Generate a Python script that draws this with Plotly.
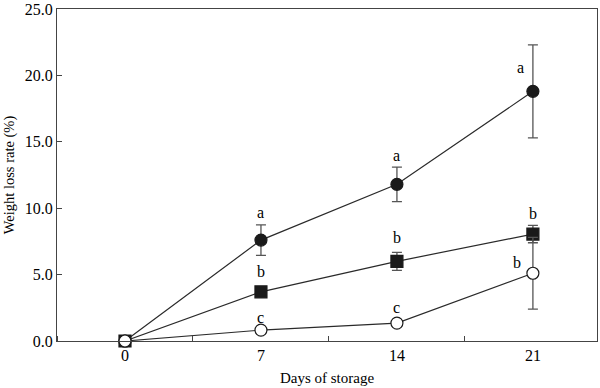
import plotly.graph_objects as go

days = [0, 7, 14, 21]

# Series A (filled circles)
a_vals = [0.0, 7.6, 11.8, 18.8]
a_err = [0.0, 1.15, 1.3, 3.5]
a_letters = ["", "a", "a", "a"]

# Series B (filled squares)
b_vals = [0.0, 3.7, 6.0, 8.05]
b_err = [0.0, 0.25, 0.68, 0.65]
b_letters = ["", "b", "b", "b"]

# Series C (open circles)
c_vals = [0.0, 0.82, 1.35, 5.1]
c_err = [0.0, 0.1, 0.15, 2.7]
c_letters = ["", "c", "c", "b"]

# letter positions (value units)
a_letter_y = [None, 9.7, 14.0, 20.6]
b_letter_y = [None, 5.2, 7.8, 9.6]
c_letter_y = [None, 1.75, 2.55, 5.9]
a_letter_dx = [0, 0, 0, -0.65]
b_letter_dx = [0, 0, 0, 0]
c_letter_dx = [0, 0, 0, -0.8]

ink = "#000000"
bar_col = "#555555"
font_family = "Liberation Serif, Times New Roman, serif"

fig = go.Figure()

def add_series(vals, err, symbol, fill):
    fig.add_trace(go.Scatter(
        x=days, y=vals, mode="lines+markers",
        line=dict(color="#2a2a2a", width=1.2),
        marker=dict(symbol=symbol, size=12, color=fill,
                    line=dict(color="#1a1a1a", width=1.2)),
        error_y=dict(type="data", array=err, visible=True,
                     color=bar_col, thickness=1.3, width=5),
        showlegend=False, cliponaxis=False, hoverinfo="skip",
    ))

add_series(a_vals, a_err, "circle", "#1a1a1a")
add_series(b_vals, b_err, "square", "#1a1a1a")
add_series(c_vals, c_err, "circle", "white")

for letters, ys, dxs in [(a_letters, a_letter_y, a_letter_dx),
                         (b_letters, b_letter_y, b_letter_dx),
                         (c_letters, c_letter_y, c_letter_dx)]:
    for d, lt, yy, dx in zip(days, letters, ys, dxs):
        if not lt:
            continue
        fig.add_annotation(
            x=d + dx, y=yy, text=lt, showarrow=False,
            xanchor="center", yanchor="middle",
            font=dict(family=font_family, size=16, color=ink),
        )

fig.update_layout(
    width=600, height=388,
    margin=dict(l=57, r=3, t=9, b=47),
    paper_bgcolor="white", plot_bgcolor="white",
    font=dict(family=font_family, size=15, color=ink),
)

fig.update_xaxes(
    range=[-3.5, 24.3], tickvals=days, ticktext=[str(d) for d in days],
    ticks="", showgrid=False, zeroline=False, automargin=False,
    showline=True, linecolor="#444444", linewidth=1.2, mirror=True,
    minor=dict(tick0=3.5, dtick=7, ticks="inside", ticklen=5,
               tickcolor="#444444", showgrid=False),
    title=dict(text="Days of storage", font=dict(size=15), standoff=9),
    tickfont=dict(size=16),
)

fig.update_yaxes(
    range=[0, 25], tickvals=[0, 5, 10, 15, 20, 25], tickformat=".1f",
    ticks="inside", ticklen=5, tickcolor="#444444",
    showgrid=False, zeroline=False, automargin=False,
    showline=True, linecolor="#444444", linewidth=1.2, mirror=True,
    title=dict(text="Weight loss rate (%)", font=dict(size=14.5), standoff=6),
    tickfont=dict(size=16),
)

fig.write_html("out.html", config={"displayModeBar": False},
               post_script="document.body.style.margin='0';")
